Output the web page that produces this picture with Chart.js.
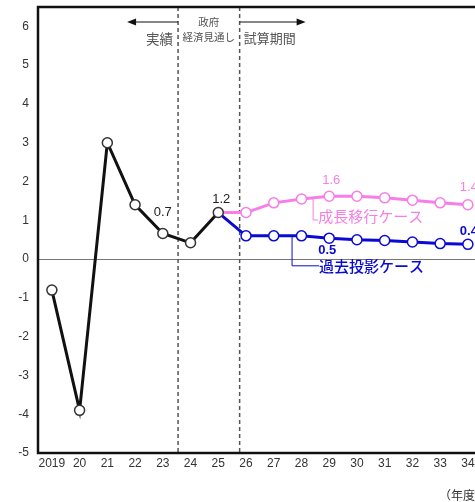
<!DOCTYPE html>
<html>
<head>
<meta charset="utf-8">
<script src="https://cdn.jsdelivr.net/npm/chart.js@4"></script>
<style>
  html, body { margin: 0; padding: 0; background: #fff; overflow: hidden; }
  #wrap { position: relative; width: 516px; height: 502px; }
</style>
</head>
<body>
<div id="wrap"><canvas id="chart"></canvas></div>
<script>
// fiscal years (x axis)
const years = ['2019', '20', '21', '22', '23', '24', '25', '26', '27', '28', '29', '30', '31', '32', '33', '34', '35'];
// actual results up to FY2025
const actual = [-0.8, -3.9, 3.0, 1.4, 0.66, 0.42, 1.2, null, null, null, null, null, null, null, null, null, null];
// projection: growth transition case
const growthCase = [null, null, null, null, null, null, 1.2, 1.2, 1.45, 1.55, 1.62, 1.62, 1.58, 1.52, 1.45, 1.4, null];
// projection: past trend case
const pastCase = [null, null, null, null, null, null, 1.2, 0.6, 0.6, 0.6, 0.54, 0.5, 0.48, 0.44, 0.4, 0.38, null];
// boundaries between periods (fiscal year)
const periodBounds = [2023.55, 2025.77];
const periodNames = ['実績', ['政府', '経済見通し'], '試算期間'];
const caseNames = ['成長移行ケース', '過去投影ケース'];
// value labels: [dataset, index]
const valueNotes = [[0, 4], [0, 6], [1, 10], [1, 15], [2, 10], [2, 15]];
const yTicks = [-5, -4, -3, -2, -1, 0, 1, 2, 3, 4, 5, 6];

const PINK = '#f67ee6';
const BLUE = '#0a0ad2';
const JP = '"Noto Sans CJK JP", sans-serif';
const LAT = '"Liberation Sans", Arial, sans-serif';

const noteOffsets = [[0, -21], [3, -13], [2, -16], [1, -17], [-2, 12], [1, -13]];
const noteColors = ['#222', PINK, BLUE];

const decorations = {
    id: 'decorations',
    beforeDatasetsDraw(chart) {
        const {ctx, chartArea: a, scales: {x, y}} = chart;
        ctx.save();
        // period dividers
        ctx.strokeStyle = '#555';
        ctx.lineWidth = 1.5;
        ctx.setLineDash([4, 3]);
        periodBounds.forEach(b => {
            const px = x.getPixelForValue(b - 2019);
            ctx.beginPath();
            ctx.moveTo(px, a.top);
            ctx.lineTo(px, a.bottom);
            ctx.stroke();
        });
        ctx.setLineDash([]);

        // frame
        ctx.strokeStyle = '#111';
        ctx.lineWidth = 2.5;
        ctx.strokeRect(a.left, a.top, a.right - a.left, a.bottom - a.top);

        // leader lines for case names
        ctx.lineWidth = 1;
        let px = x.getPixelForValue(9.42);
        let top = y.getPixelForValue(1.55);
        ctx.strokeStyle = PINK;
        ctx.beginPath();
        ctx.moveTo(px, top);
        ctx.lineTo(px, top + 21);
        ctx.lineTo(px + 5, top + 21);
        ctx.stroke();

        px = x.getPixelForValue(8.66);
        top = y.getPixelForValue(0.6);
        ctx.strokeStyle = BLUE;
        ctx.beginPath();
        ctx.moveTo(px, top);
        ctx.lineTo(px, top + 30);
        ctx.lineTo(px + 27, top + 30);
        ctx.stroke();
        ctx.restore();
    },
    afterDraw(chart) {
        const {ctx, chartArea: a, scales: {x, y}} = chart;
        const d1 = x.getPixelForValue(periodBounds[0] - 2019);
        const d2 = x.getPixelForValue(periodBounds[1] - 2019);
        ctx.save();
        ctx.textBaseline = 'middle';

        // arrows
        ctx.strokeStyle = '#111';
        ctx.fillStyle = '#111';
        ctx.lineWidth = 1.2;
        const ay = a.top + 15;
        ctx.beginPath();
        ctx.moveTo(d1, ay);
        ctx.lineTo(d1 - 44, ay);
        ctx.moveTo(d2, ay);
        ctx.lineTo(d2 + 58, ay);
        ctx.stroke();
        ctx.beginPath();
        ctx.moveTo(d1 - 51, ay);
        ctx.lineTo(d1 - 42, ay - 3.5);
        ctx.lineTo(d1 - 42, ay + 3.5);
        ctx.closePath();
        ctx.moveTo(d2 + 66, ay);
        ctx.lineTo(d2 + 57, ay - 3.5);
        ctx.lineTo(d2 + 57, ay + 3.5);
        ctx.closePath();
        ctx.fill();

        // period names
        ctx.fillStyle = '#555';
        ctx.font = '13.5px ' + JP;
        ctx.textAlign = 'right';
        ctx.fillText(periodNames[0], d1 - 5, a.top + 32);
        ctx.textAlign = 'center';
        ctx.font = '10.5px ' + JP;
        ctx.fillText(periodNames[1][0], (d1 + d2) / 2, a.top + 15);
        ctx.fillText(periodNames[1][1], (d1 + d2) / 2, a.top + 30);
        ctx.textAlign = 'left';
        ctx.font = '13px ' + JP;
        ctx.fillText(periodNames[2], d2 + 4, a.top + 31);

        // case names
        ctx.font = '15px ' + JP;
        ctx.fillStyle = PINK;
        ctx.fillText(caseNames[0], x.getPixelForValue(9.42) + 5, y.getPixelForValue(1.55) + 17);
        ctx.fillStyle = BLUE;
        ctx.font = '500 15px ' + JP;
        ctx.fillText(caseNames[1], x.getPixelForValue(8.66) + 27, y.getPixelForValue(0.6) + 30);

        // value labels
        ctx.textAlign = 'center';
        valueNotes.forEach(([ds, i], k) => {
            const pt = chart.getDatasetMeta(ds).data[i];
            const v = chart.data.datasets[ds].data[i];
            ctx.fillStyle = noteColors[ds];
            ctx.font = (ds === 2 ? 'bold ' : '') + '13px ' + LAT;
            ctx.fillText(v.toFixed(1), pt.x + noteOffsets[k][0], pt.y + noteOffsets[k][1]);
        });

        // unit
        ctx.fillStyle = '#333';
        ctx.textAlign = 'left';
        ctx.font = '12px ' + JP;
        ctx.fillText('（年度）', x.getPixelForValue(15) - 29, a.bottom + 42);
        ctx.restore();
    }
};

const startIdx = years.indexOf('25');

new Chart(document.getElementById('chart'), {
    type: 'line',
    data: {
        labels: years,
        datasets: [{
            data: actual,
            borderColor: '#111',
            borderWidth: 3,
            pointRadius: 5,
            pointBorderWidth: 1.5,
            pointBorderColor: '#333',
            pointBackgroundColor: '#fff',
            tension: 0
        }, {
            data: growthCase,
            borderColor: PINK,
            borderWidth: 3,
            pointRadius: ctx => ctx.dataIndex === startIdx ? 0 : 5,
            pointBorderWidth: 1.5,
            pointBorderColor: PINK,
            pointBackgroundColor: '#fff',
            tension: 0
        }, {
            data: pastCase,
            borderColor: BLUE,
            borderWidth: 3,
            pointRadius: ctx => ctx.dataIndex === startIdx ? 0 : 5,
            pointBorderWidth: 1.5,
            pointBorderColor: BLUE,
            pointBackgroundColor: '#fff',
            tension: 0
        }]
    },
    options: {
        responsive: true,
        maintainAspectRatio: false,
        animation: false,
        layout: { padding: { top: 7, right: 4.5, left: 0, bottom: 0 } },
        plugins: {
            legend: { display: false },
            tooltip: { enabled: false }
        },
        scales: {
            x: {
                offset: true,
                grid: { display: false, drawTicks: false },
                border: { display: false },
                ticks: {
                    autoSkip: false,
                    maxRotation: 0,
                    padding: 3,
                    color: '#333',
                    font: { family: LAT, size: 12 }
                },
                afterFit(scale) {
                    scale.height = 49;
                    scale.paddingLeft = 0;
                    scale.paddingRight = 0;
                }
            },
            y: {
                min: -5,
                max: 6.5,
                afterBuildTicks(scale) { scale.ticks = yTicks.map(v => ({ value: v })); },
                grid: {
                    drawTicks: false,
                    color: ctx => ctx.tick && ctx.tick.value === 0 ? '#777' : 'rgba(0,0,0,0)',
                    lineWidth: 1
                },
                border: { display: false },
                ticks: {
                    padding: 9,
                    color: '#333',
                    font: { family: LAT, size: 12 }
                },
                afterFit(scale) {
                    scale.width = 38;
                    scale.paddingTop = 0;
                    scale.paddingBottom = 0;
                }
            }
        }
    },
    plugins: [decorations]
});
</script>
</body>
</html>
